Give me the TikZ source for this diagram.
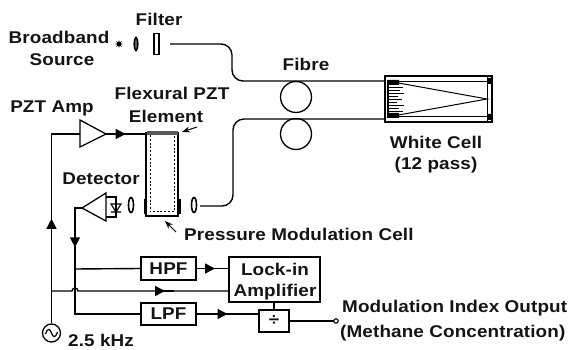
\documentclass[tikz,border=0pt]{standalone}
\usepackage{fontspec}
\setmainfont[FakeStretch=1.11,LetterSpace=0.8]{Liberation Sans Bold}
\usetikzlibrary{arrows.meta,decorations.markings,shapes.geometric}
\tikzset{
  lbl/.style={inner sep=0pt,font=\fontsize{17}{20}\selectfont,text=black!92},
  wire/.style={line width=1.4pt,black},
  fbr/.style={line width=1.4pt,black,rounded corners=11pt},
  box/.style={draw,line width=1.5pt,inner sep=0pt},
  lensn/.style={draw,ellipse,line width=1.6pt,inner sep=0pt,minimum width=5pt,minimum height=15pt},
  tip/.style={postaction={decorate},decoration={markings,mark=at position #1 with {\arrow{Triangle[length=10pt,width=10pt]}}}},
  thin arrow/.style={line width=1pt,-{Stealth[length=8pt,width=6pt]}}
}
\begin{document}
\begin{tikzpicture}[x=1pt,y=-1pt]
\useasboundingbox (0,0) rectangle (571,350);
% labels
\node[lbl] (filterL) at (159,19) {Filter};
\node[lbl] (broadL) at (59,37) {Broadband};
\node[lbl] (sourceL) at (62,60) {Source};
\node[lbl] (fibreL) at (306,64) {Fibre};
\node[lbl] (wcL) at (436,142) {White Cell};
\node[lbl] (passL) at (436,165) {(12 pass)};
\node[lbl] (ampL) at (52,108) {PZT Amp};
\node[lbl] (flexL) at (172,93) {Flexural PZT};
\node[lbl] (elemL) at (166,116) {Element};
\node[lbl] (detL) at (101,179) {Detector};
\node[lbl,anchor=west] (pmcL) at (184,234) {Pressure Modulation Cell};
\node[lbl,anchor=west] (moL) at (342,308) {Modulation Index Output};
\node[lbl,anchor=west] (mcL) at (340,333) {(Methane Concentration)};
\node[lbl,anchor=west] (khzL) at (68,340.5) {2.5 kHz};
% source optics
\node[star,star points=8,star point ratio=2.2,fill=black,inner sep=0pt,minimum size=8pt] (srcstar) at (119,44) {};
\node[lensn,fill=black!60,minimum width=3.5pt,minimum height=13pt] (lensA) at (136,44) {};
\node[box,minimum width=5pt,minimum height=21pt] (filter) at (156.5,44) {};
% coils
\node[draw,circle,line width=1.3pt,minimum size=31pt,inner sep=0pt] (coilA) at (296,97) {};
\node[draw,circle,line width=1.3pt,minimum size=31pt,inner sep=0pt] (coilB) at (296,134) {};
% white cell
\node[box,line width=1.6pt,minimum width=107pt,minimum height=46pt] (cell) at (438.5,99) {};
\draw[line width=.7pt] (387,81.5) -- (490,81.5) (387,116.5) -- (490,116.5) (487,77) -- (487,121);
\fill[black] (487,78) rectangle (491,84) (487,114) rectangle (491,120);
\fill[black] (387,80) rectangle (399,85) (387,113) rectangle (399,118);
\draw[line width=1.4pt] (388,84) -- (388,114);
\foreach \yy/\xx in {87/403,90/400,93/404,96/398,99/402,102/397,105/404,108/399,111/403}
  \draw[line width=.7pt] (388,\yy) -- (\xx,\yy);
\draw[line width=1pt] (393,82) -- (487,99) -- (393,116);
\coordinate (cellT) at (cell.west |- 0,81);
\coordinate (cellB) at (cell.west |- 0,119);
% fibres
\coordinate (fA) at (170,44);
\coordinate (fB) at (232,44);
\coordinate (fC) at (232,81);
\coordinate (fD) at (233,119);
\coordinate (fE) at (233,206);
\coordinate (fF) at (200,206);
\draw[fbr] (fA) -- (fB) -- (fC) -- (cellT);
\draw[fbr] (cellB) -- (fD) -- (fE) -- (fF);
% PZT amp
\coordinate (ampT) at (80,120);
\coordinate (ampB) at (80,147);
\coordinate (ampO) at (106,134);
\coordinate (ampI) at (80,134);
\draw[line width=1.3pt] (ampT) -- (ampO) -- (ampB) -- cycle;
% pressure cell
\node[box,minimum width=32pt,minimum height=83pt] (pcell) at (162,174.5) {};
\draw[line width=1pt,dash pattern=on 2pt off 1.8pt] (150,135) -- (150,212) -- (174,212) -- (174,135);
\fill[black!65] (147,131.5) rectangle (178,135.5);
\fill[black] (143.5,199) rectangle (146,214);
\fill[black] (178,199) rectangle (181,214);
\node[lensn] (lensB) at (131,205) {};
\node[lensn] (lensC) at (194,205) {};
\draw[wire,tip=0.5] (ampO) -- (pcell.north west |- ampO);
% detector
\coordinate (detT) at (106,193);
\coordinate (detB) at (106,221);
\coordinate (detO) at (82,208);
\draw[line width=1.3pt] (detT) -- (detO) -- (detB) -- cycle;
\draw[line width=1.2pt] (106,197) -- (116,197) -- (116,217) -- (106,217);
\draw[line width=1.1pt] (111,204) -- (121,204) -- (116,212) -- cycle (111,212) -- (121,212);
% filters
\node[box,minimum width=55pt,minimum height=23pt] (hpf) at (168.5,268.5) {};
\node[lbl] at (hpf) {HPF};
\node[box,minimum width=55pt,minimum height=22pt] (lpf) at (168.5,314) {};
\node[lbl] at (lpf) {LPF};
\node[box,minimum width=91pt,minimum height=45pt] (lock) at (274.5,279.5) {};
\node[lbl] (lockA) at (275,269) {Lock-in};
\node[lbl] (lockB) at (275,292) {Amplifier};
\node[box,minimum width=30pt,minimum height=22pt] (div) at (274,321) {};
\node[lbl] at (div) {÷};
% source
\node[draw,circle,line width=1.3pt,minimum size=18pt,inner sep=0pt] (osc) at (51.5,333) {};
\draw[line width=1.2pt] (45.5,334) .. controls (48,327) and (50,329) .. (51.5,333) .. controls (53,337) and (55,339) .. (57.5,332);
% wiring
\coordinate (jA) at (75,269);
\coordinate (jB) at (51.5,291);
\coordinate (hopL) at (72,291);
\coordinate (hopR) at (78,291);
\coordinate (det1) at (75,208);
\coordinate (det2) at (75,314);
\coordinate (up1) at (51.5,134);
\coordinate (mA) at (156,291);
\coordinate (mB) at (174,291);
\draw[wire,tip=0.48] (osc.north) -- (up1) -- (ampI);
\draw[wire,tip=0.26] (detO) -- (det1) -- (det2) -- (lpf.west);
\draw[wire] (jA) -- (hpf.west);
\draw[wire] (jB) -- (hopL) arc[start angle=180,end angle=0,radius=3pt] -- (lock.west |- hopR);
\draw[wire,tip=0.5] (mA) -- (mB);
\draw[wire,tip=0.58] (hpf.east) -- (lock.west |- hpf.east);
\draw[wire,tip=0.5] (lpf.east) -- (div.west |- lpf.east);
\draw[wire] (lock.south -| div.north) -- (div.north);
\coordinate (outC) at (336,321);
\draw[wire] (div.east) -- (outC);
\node[draw,circle,line width=1.1pt,minimum size=4.5pt,inner sep=0pt,fill=white] (outP) at (outC) {};
% pointer arrows
\coordinate (pA) at (197,127);
\coordinate (pB) at (182,132);
\coordinate (pC) at (176,232);
\coordinate (pD) at (165,221);
\draw[thin arrow] (pA) -- (pB);
\draw[thin arrow] (pC) -- (pD);
\end{tikzpicture}
\end{document}
